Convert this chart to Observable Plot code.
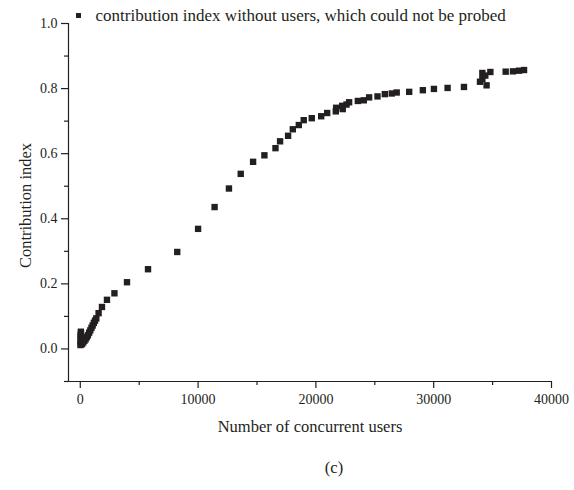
<!DOCTYPE html>
<html>
<head>
<meta charset="utf-8">
<script src="https://cdn.jsdelivr.net/npm/d3@7"></script>
<script src="https://cdn.jsdelivr.net/npm/@observablehq/plot@0.6"></script>
<style>
  html, body { margin: 0; padding: 0; background: #fff; }
  svg { display: block; }
</style>
</head>
<body>
<div id="chart"></div>
<script>
// Number of concurrent users for each measurement
const users = [
  20, 30, 40, 50, 40, 30, 60, 50,
  150, 250, 350, 450, 550, 650, 750, 850, 950, 1050, 1150, 1250, 1360,
  1555, 1840, 2265, 2900, 3965, 5750, 8230,
  10000, 11400, 12620, 13620, 14670, 15630, 16570, 16960, 17640, 18040, 18550, 18970,
  19650, 20450, 20960, 21690, 21720, 22230, 22280, 22600, 22820, 23560, 24070,
  24520, 25230, 25850, 26440, 26860, 27920, 29080, 30020, 31180, 32570,
  33930, 34130, 34130, 34380, 34810, 34490, 36110, 36730, 37240, 37670
];
// Contribution index for the same measurements
const contribution = [
  0.012, 0.018, 0.024, 0.030, 0.036, 0.042, 0.048, 0.053,
  0.015, 0.020, 0.025, 0.030, 0.036, 0.042, 0.050, 0.057, 0.065, 0.072, 0.080, 0.087, 0.094,
  0.110, 0.129, 0.151, 0.171, 0.205, 0.245, 0.298,
  0.369, 0.436, 0.493, 0.538, 0.575, 0.595, 0.617, 0.638, 0.655, 0.675, 0.688, 0.703,
  0.709, 0.715, 0.725, 0.730, 0.741, 0.747, 0.737, 0.751, 0.758, 0.762, 0.764,
  0.773, 0.776, 0.783, 0.785, 0.788, 0.790, 0.795, 0.799, 0.802, 0.805,
  0.821, 0.829, 0.848, 0.840, 0.851, 0.810, 0.852, 0.853, 0.855, 0.857
];

const xMajor = [0, 10000, 20000, 30000, 40000];
const xMinor = [5000, 15000, 25000, 35000];
const yMajor = [0, 0.2, 0.4, 0.6, 0.8, 1.0];
const yMinor = [-0.1, 0.1, 0.3, 0.5, 0.7, 0.9];

const legendLabel = "contribution index without users, which could not be probed";
const xTitle = "Number of concurrent users";
const yTitle = "Contribution index";
const panelTag = "(c)";

const rows = users.map((u, i) => ({users: u, index: contribution[i]}));

const ink = "#231f20";
const serif = "'Liberation Serif', 'Times New Roman', serif";

const chart = Plot.plot({
  width: 574,
  height: 490,
  marginLeft: 68,
  marginRight: 23,
  marginTop: 23,
  marginBottom: 109,
  style: {fontFamily: serif, color: ink, background: "#fff"},
  x: {domain: [-1000, 40000]},
  y: {domain: [-0.1, 1.0]},
  marks: [
    // axis lines
    Plot.ruleX([-1000], {stroke: ink, strokeWidth: 1.2}),
    Plot.ruleY([-0.1], {stroke: ink, strokeWidth: 1.2}),
    // x axis: major ticks with labels, minor ticks without
    Plot.axisX({ticks: xMajor, tickSize: 7, tickPadding: 6, tickFormat: d => String(d),
      fontSize: 14, label: null, stroke: ink, fill: ink, strokeWidth: 1.2}),
    Plot.axisX({ticks: xMinor, tickSize: 4, tickFormat: () => "", label: null, stroke: ink, strokeWidth: 1.2}),
    // y axis
    Plot.axisY({ticks: yMajor, tickSize: 7, tickPadding: 4, tickFormat: d3.format(".1f"),
      fontSize: 14, label: null, stroke: ink, fill: ink, strokeWidth: 1.2}),
    Plot.axisY({ticks: yMinor, tickSize: 4, tickFormat: () => "", label: null, stroke: ink, strokeWidth: 1.2}),
    // data points
    Plot.dot(rows, {x: "users", y: "index", symbol: "square", r: 3.6, fill: ink, stroke: "none"}),
    // legend
    Plot.dot([0], {frameAnchor: "top-left", dx: 10, dy: -8, symbol: "square", r: 2.8, fill: ink, stroke: "none"}),
    Plot.text([legendLabel], {frameAnchor: "top-left", dx: 27, dy: -8, textAnchor: "start",
      lineAnchor: "middle", fontSize: 17, fill: ink}),
    // axis titles
    Plot.text([xTitle], {frameAnchor: "bottom", dx: 0, dy: 45, textAnchor: "middle", lineAnchor: "middle",
      fontSize: 16.5, fill: ink}),
    Plot.text([yTitle], {frameAnchor: "left", dx: -43, dy: 3, rotate: -90, textAnchor: "middle",
      lineAnchor: "middle", fontSize: 16.5, fill: ink}),
    Plot.text([panelTag], {frameAnchor: "bottom", dx: 24, dy: 86, textAnchor: "middle", lineAnchor: "middle",
      fontSize: 16.5, fill: ink})
  ]
});

document.getElementById("chart").appendChild(chart);
</script>
</body>
</html>
